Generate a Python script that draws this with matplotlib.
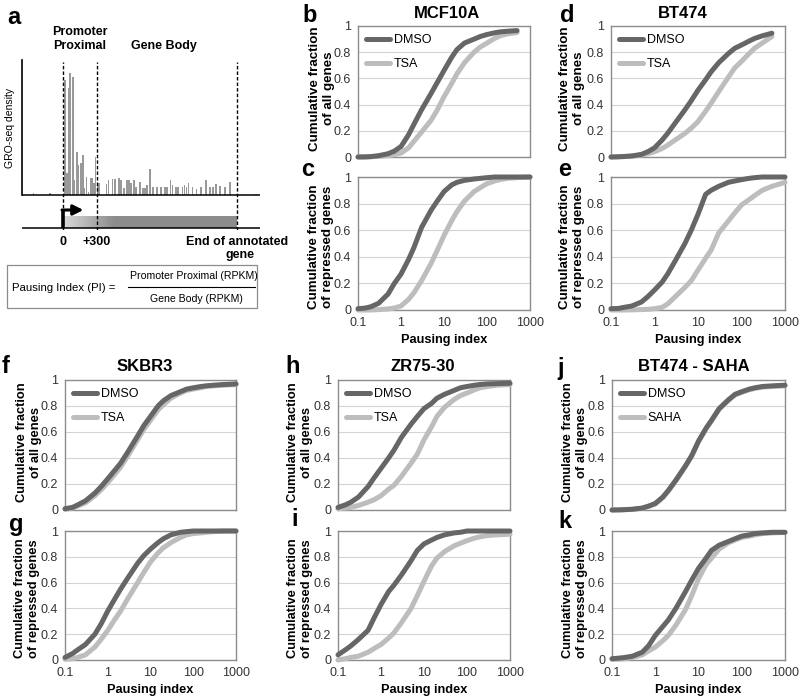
import matplotlib
matplotlib.use("Agg")
import matplotlib.pyplot as plt
import numpy as np
from matplotlib.patches import Rectangle
from matplotlib.lines import Line2D
from matplotlib.ticker import NullLocator

plt.rcParams['font.family'] = ['Liberation Sans', 'DejaVu Sans']

# ---- panel a: schematic GRO-seq profile (positions in bp, TSS = 0) ----
tss, prox_end, gene_end = 0, 300, 1535
flank_pos = [-262, -115, 1703]
flank_h = [2.3, 1.7, 1.2]
prox_pos = [18, 35, 50, 64, 86, 100, 124, 138, 156, 174, 188, 206, 223, 241, 256, 271, 288, 303]
prox_h = [115, 21.7, 106.7, 121.7, 118.3, 15, 43.3, 30, 31.7, 40, 6.7, 18.3, 3.3, 16.7, 16.7, 11.7, 38.3, 10]
body_pos = [318, 385, 403, 438, 456, 494, 512, 538, 565, 582, 600, 626, 644, 679, 706, 723, 741,
            767, 794, 829, 865, 900, 918, 947, 965, 997, 1015, 1053, 1070, 1088, 1106, 1141, 1176,
            1218, 1262, 1297, 1324, 1350, 1385, 1429, 1474]
body_h = [12.3, 11.3, 15, 15.7, 15.7, 17.3, 15, 7.3, 15, 15, 12.3, 15, 8, 13.3, 7.3, 7.3, 10,
          26.3, 8, 8, 8, 8, 8, 15, 10, 8, 8, 8, 10, 8, 11.7, 8, 5.7, 8, 15, 8, 8, 10.7, 9.3, 8, 13.3]

# ---- cumulative distributions of pausing index ----
pi_bins = [0.1, 0.15, 0.2, 0.3, 0.5, 0.7, 1, 1.5, 2, 3, 5, 7, 10, 15, 20, 30, 50, 70,
           100, 150, 200, 300, 500, 1000]
nan = np.nan

b_dmso = [0, 0.001, 0.003, 0.01, 0.025, 0.045, 0.08, 0.17, 0.25, 0.36, 0.485, 0.57, 0.66, 0.76,
          0.82, 0.87, 0.90, 0.92, 0.935, 0.948, 0.955, 0.96, 0.965, nan]
b_tsa = [0, 0, 0.002, 0.005, 0.01, 0.018, 0.03, 0.07, 0.12, 0.19, 0.28, 0.36, 0.46, 0.56,
         0.635, 0.72, 0.80, 0.84, 0.87, 0.905, 0.925, 0.94, 0.95, nan]
c_dmso = [0.01, 0.015, 0.025, 0.05, 0.12, 0.2, 0.27, 0.38, 0.47, 0.62, 0.75, 0.82, 0.89, 0.94,
          0.96, 0.975, 0.985, 0.99, 0.995, 1, 1, 1, 1, 1]
c_tsa = [0, 0, 0, 0.003, 0.008, 0.015, 0.03, 0.08, 0.13, 0.22, 0.35, 0.45, 0.56, 0.67, 0.74,
         0.82, 0.89, 0.92, 0.95, 0.97, 0.98, 0.99, 0.995, 1]
d_dmso = [0, 0.002, 0.004, 0.008, 0.02, 0.04, 0.07, 0.13, 0.18, 0.26, 0.36, 0.43, 0.51, 0.59,
          0.65, 0.72, 0.79, 0.83, 0.855, 0.885, 0.905, 0.925, 0.945, nan]
d_tsa = [0, 0.001, 0.003, 0.006, 0.015, 0.025, 0.04, 0.065, 0.09, 0.13, 0.18, 0.22, 0.27, 0.35,
         0.41, 0.50, 0.61, 0.68, 0.73, 0.79, 0.83, 0.87, 0.92, nan]
e_dmso = [0.01, 0.012, 0.02, 0.03, 0.06, 0.1, 0.15, 0.21, 0.27, 0.37, 0.50, 0.60, 0.72, 0.87,
          0.90, 0.93, 0.96, 0.97, 0.98, 0.99, 0.995, 1, 1, 1]
e_tsa = [0, 0, 0, 0.001, 0.003, 0.005, 0.01, 0.02, 0.045, 0.1, 0.17, 0.22, 0.30, 0.39, 0.45,
         0.58, 0.67, 0.73, 0.79, 0.83, 0.86, 0.90, 0.93, 0.96]
f_dmso = [0.01, 0.02, 0.04, 0.07, 0.13, 0.18, 0.24, 0.31, 0.36, 0.45, 0.57, 0.65, 0.72, 0.80,
          0.84, 0.88, 0.91, 0.93, 0.94, 0.95, 0.955, 0.96, 0.965, 0.97]
f_tsa = [0.005, 0.015, 0.03, 0.055, 0.11, 0.155, 0.21, 0.28, 0.33, 0.42, 0.54, 0.62, 0.69, 0.77,
         0.81, 0.86, 0.90, 0.92, 0.93, 0.94, 0.95, 0.955, 0.96, 0.965]
g_dmso = [0.02, 0.05, 0.08, 0.12, 0.2, 0.28, 0.38, 0.48, 0.55, 0.64, 0.75, 0.81, 0.86, 0.91,
          0.94, 0.97, 0.99, 0.995, 1, 1, 1, 1, 1, 1]
g_tsa = [0.005, 0.01, 0.02, 0.04, 0.1, 0.16, 0.23, 0.32, 0.38, 0.48, 0.60, 0.68, 0.76, 0.83,
         0.87, 0.91, 0.95, 0.97, 0.98, 0.985, 0.99, 0.995, 1, 1]
h_dmso = [0.02, 0.04, 0.06, 0.1, 0.18, 0.25, 0.32, 0.40, 0.46, 0.56, 0.66, 0.72, 0.78, 0.82,
          0.86, 0.89, 0.92, 0.94, 0.95, 0.96, 0.965, 0.97, 0.972, 0.975]
h_tsa = [0.01, 0.015, 0.02, 0.035, 0.06, 0.08, 0.11, 0.16, 0.19, 0.26, 0.36, 0.43, 0.54, 0.64,
         0.72, 0.79, 0.85, 0.88, 0.90, 0.925, 0.94, 0.95, 0.96, 0.965]
i_dmso = [0.04, 0.08, 0.11, 0.16, 0.23, 0.33, 0.43, 0.53, 0.58, 0.66, 0.77, 0.85, 0.90, 0.93,
          0.95, 0.97, 0.985, 0.99, 1, 1, 1, 1, 1, 1]
i_tsa = [0, 0.01, 0.02, 0.03, 0.06, 0.09, 0.12, 0.17, 0.21, 0.29, 0.40, 0.50, 0.61, 0.73, 0.79,
         0.84, 0.885, 0.905, 0.925, 0.945, 0.955, 0.965, 0.97, 0.975]
j_dmso = [0, 0.001, 0.003, 0.006, 0.015, 0.03, 0.05, 0.1, 0.15, 0.23, 0.34, 0.42, 0.53, 0.63,
          0.69, 0.78, 0.85, 0.89, 0.91, 0.93, 0.94, 0.95, 0.955, 0.96]
j_saha = [0, 0.001, 0.002, 0.005, 0.013, 0.027, 0.046, 0.095, 0.145, 0.225, 0.335, 0.415, 0.525,
          0.625, 0.685, 0.775, 0.845, 0.885, 0.905, 0.925, 0.935, 0.945, 0.95, 0.955]
k_dmso = [0.01, 0.015, 0.02, 0.03, 0.06, 0.11, 0.19, 0.26, 0.31, 0.40, 0.53, 0.62, 0.71, 0.79,
          0.85, 0.89, 0.92, 0.94, 0.96, 0.97, 0.98, 0.985, 0.99, 0.99]
k_saha = [0.005, 0.007, 0.01, 0.02, 0.04, 0.07, 0.10, 0.15, 0.19, 0.27, 0.39, 0.50, 0.63, 0.74,
          0.79, 0.86, 0.91, 0.93, 0.95, 0.96, 0.97, 0.98, 0.985, 0.99]

x_ticks = [0.1, 1, 10, 100, 1000]
x_ticklabels = ["0.1", "1", "10", "100", "1000"]
y_ticks = [0, 0.2, 0.4, 0.6, 0.8, 1]
y_ticklabels = ["0", "0.2", "0.4", "0.6", "0.8", "1"]

W, H = 800, 700
DARK = "#666666"
LIGHT = "#bdbdbd"


def rect(x0, y0, x1, y1):
    return [x0 / W, 1 - y1 / H, (x1 - x0) / W, (y1 - y0) / H]


def fx(x):
    return x / W


def fy(y):
    return 1 - y / H


fig = plt.figure(figsize=(8, 7), dpi=100)

# ================= panel a =================
ax = fig.add_axes(rect(22, 60, 260, 230))
ax.bar(flank_pos, flank_h, width=14, color="#999999", zorder=2)
ax.bar(prox_pos, prox_h, width=14, color="#999999", zorder=2)
ax.bar(body_pos, body_h, width=14, color="#999999", zorder=2)
grad = np.concatenate([np.linspace(0.85, 0.55, 30), np.full(70, 0.55)]).reshape(1, -1)
ax.imshow(grad, extent=(tss, gene_end, -33, -21), aspect="auto", cmap="gray",
          vmin=0, vmax=1, zorder=1)
ax.axhline(0, color="k", lw=1.1, zorder=3)
ax.axhline(-33, color="k", lw=1.1, zorder=3)
ax.vlines([tss, prox_end, gene_end], -35, 133, colors="k", lw=1,
          linestyles=(0, (2.5, 1.5)), zorder=4)
ax.plot([tss, tss], [-33, -15], color="k", lw=2.6, solid_capstyle="butt", zorder=5)
ax.annotate("", xy=(180, -15), xytext=(tss - 9, -15),
            arrowprops=dict(arrowstyle="-|>,head_length=0.6,head_width=0.3",
                            lw=2.2, color="k", shrinkA=0, shrinkB=0), zorder=5)
ax.set_xlim(-362, 1738)
ax.set_ylim(-35, 135)
for s in ["top", "right", "bottom"]:
    ax.spines[s].set_visible(False)
ax.spines["left"].set_bounds(0, 135)
ax.spines["left"].set_linewidth(1.2)
ax.set_xticks([])
ax.set_yticks([])

fig.text(fx(10), fy(128), "GRO-seq density", rotation=90, ha="center", va="center", fontsize=7.5)
fig.text(fx(80), fy(32), "Promoter", ha="center", va="center", fontsize=9, fontweight="bold")
fig.text(fx(80), fy(46), "Proximal", ha="center", va="center", fontsize=9, fontweight="bold")
fig.text(fx(164), fy(46), "Gene Body", ha="center", va="center", fontsize=9, fontweight="bold")
fig.text(fx(63), fy(242), "0", ha="center", va="center", fontsize=9, fontweight="bold")
fig.text(fx(97), fy(242), "+300", ha="center", va="center", fontsize=9, fontweight="bold")
fig.text(fx(237), fy(242), "End of annotated", ha="center", va="center", fontsize=9, fontweight="bold")
fig.text(fx(240), fy(255), "gene", ha="center", va="center", fontsize=9, fontweight="bold")

fig.add_artist(Rectangle((fx(7), fy(308)), (257 - 7) / W, (308 - 265) / H,
                         transform=fig.transFigure, fill=False, ec="#8c8c8c", lw=0.9))
fig.text(fx(12), fy(288), "Pausing Index (PI) =", ha="left", va="center", fontsize=8.2)
fig.text(fx(194), fy(276), "Promoter Proximal (RPKM)", ha="center", va="center", fontsize=7.6)
fig.add_artist(Line2D([fx(128), fx(255)], [fy(287), fy(287)], transform=fig.transFigure,
                      color="k", lw=0.8))
fig.text(fx(196), fy(299), "Gene Body (RPKM)", ha="center", va="center", fontsize=7.6)

# ================= CDF panels =================
ALL = "Cumulative fraction\nof all genes"
REP = "Cumulative fraction\nof repressed genes"

panels = [
    # letter, box (px), dmso, treated, treatment, top row?, ylabel, ylabel x, letter pos, ylabel size
    ("b", (358, 26, 530, 157), b_dmso, b_tsa, "TSA", True, ALL, 322, (310, 15), 9.6),
    ("c", (358, 177, 530, 310), c_dmso, c_tsa, "TSA", False, REP, 321, (308, 169), 9.6),
    ("d", (611, 26, 785, 157), d_dmso, d_tsa, "TSA", True, ALL, 572, (567, 15), 9.6),
    ("e", (611, 177, 785, 310), e_dmso, e_tsa, "TSA", False, REP, 572, (565, 169), 9.6),
    ("f", (65, 380, 236, 510), f_dmso, f_tsa, "TSA", True, ALL, 29, (6, 366), 9.3),
    ("g", (65, 531, 236, 660), g_dmso, g_tsa, "TSA", False, REP, 27, (16, 524), 9.3),
    ("h", (338, 380, 510, 510), h_dmso, h_tsa, "TSA", True, ALL, 300, (293, 366), 9.3),
    ("i", (338, 531, 510, 660), i_dmso, i_tsa, "TSA", False, REP, 300, (295, 520), 9.3),
    ("j", (612, 380, 785, 510), j_dmso, j_saha, "SAHA", True, ALL, 575, (561, 368), 9.3),
    ("k", (612, 531, 785, 660), k_dmso, k_saha, "SAHA", False, REP, 575, (565, 522), 9.3),
]

for letter, box, dmso, treat, tname, top, ylab, lx, lpos, ysize in panels:
    x0, y0, x1, y1 = box
    ax = fig.add_axes(rect(x0, y0, x1, y1))
    lt, = ax.plot(pi_bins, treat, color=LIGHT, lw=3.6, solid_capstyle="round",
                  solid_joinstyle="round", clip_on=False, zorder=3, label=tname)
    ld, = ax.plot(pi_bins, dmso, color=DARK, lw=3.6, solid_capstyle="round",
                  solid_joinstyle="round", clip_on=False, zorder=4, label="DMSO")
    ax.set_xscale("log")
    ax.set_xlim(0.1, 1000)
    ax.set_ylim(0, 1)
    ax.set_xticks(x_ticks)
    ax.xaxis.set_minor_locator(NullLocator())
    ax.set_yticks(y_ticks)
    ax.set_yticklabels(y_ticklabels)
    if top:
        ax.set_xticklabels([])
        ax.legend([ld, lt], ["DMSO", tname], loc="upper left", frameon=False,
                  fontsize=9, handlelength=1.9, handletextpad=0.3, labelspacing=0.95,
                  borderaxespad=0.25, borderpad=0.4)
    else:
        ax.set_xticklabels(x_ticklabels)
        ax.set_xlabel("Pausing index", fontsize=9.2, fontweight="bold", labelpad=4)
    ax.tick_params(length=0, labelsize=9, labelcolor="#333333", pad=5)
    ax.yaxis.grid(True, color="#d4d4d4", lw=0.8)
    ax.set_axisbelow(True)
    for s in ax.spines.values():
        s.set_color("#8c8c8c")
        s.set_linewidth(1)
    ly = (y0 + y1) / 2 + (-3 if top else 3)
    fig.text(fx(lx), fy(ly), ylab, rotation=90, ha="center", va="center",
             multialignment="center", fontsize=ysize, fontweight="bold", linespacing=1.2)
    fig.text(fx(lpos[0]), fy(lpos[1]), letter, ha="center", va="center",
             fontsize=17, fontweight="bold")

fig.text(fx(14), fy(17), "a", ha="center", va="center", fontsize=17, fontweight="bold")

titles = ["MCF10A", "BT474", "SKBR3", "ZR75-30", "BT474 - SAHA"]
title_pos = [(447, 14), (683, 14), (145, 367), (423, 367), (694, 367)]
for t, (tx, ty) in zip(titles, title_pos):
    fig.text(fx(tx), fy(ty), t, ha="center", va="center", fontsize=12, fontweight="bold")

fig.savefig("out.png", dpi=100)
